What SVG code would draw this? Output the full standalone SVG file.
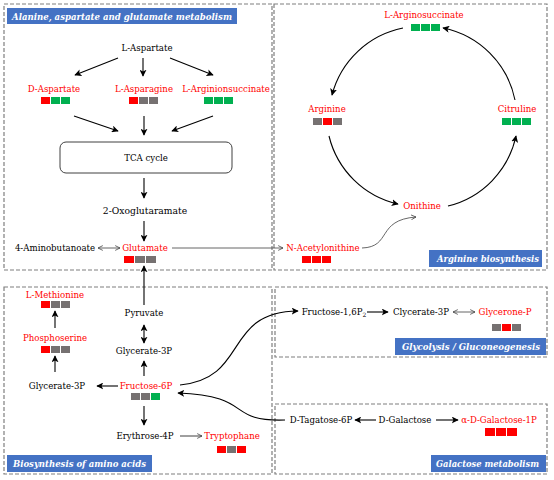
<svg xmlns="http://www.w3.org/2000/svg" width="554" height="480" viewBox="0 0 554 480" font-family="DejaVu Serif">
<defs>
<style>
.t{font-size:8.6px;fill:#000;text-anchor:middle}
.r{fill:#ff0000}
.lab{font-size:8.3px;font-weight:bold;font-style:italic;fill:#fff}
.lb{fill:#4472c4}
.box{fill:none;stroke:#7f7f7f;stroke-width:1.2;stroke-dasharray:4 2}
.a{fill:none;stroke:#000;stroke-width:1.1;marker-end:url(#ah)}
.thin{fill:none;stroke:#404040;stroke-width:0.8}
.R{fill:#ff0000}.G{fill:#00b050}.Y{fill:#767171}
</style>
<marker id="ah" viewBox="0 0 10 10" refX="9" refY="5" markerWidth="7" markerHeight="7" markerUnits="userSpaceOnUse" orient="auto-start-reverse">
<path d="M0,0 L10,5 L0,10 L2.5,5 z" fill="#000"/>
</marker>
<marker id="ov" viewBox="0 0 10 10" refX="9" refY="5" markerWidth="6" markerHeight="6" markerUnits="userSpaceOnUse" orient="auto-start-reverse">
<path d="M1,1 L9,5 L1,9" fill="none" stroke="#404040" stroke-width="1.3"/>
</marker>
</defs>
<rect width="554" height="480" fill="#fff"/>

<g id="frames">
<rect class="box" x="4" y="4" width="268" height="266"/>
<rect class="box" x="274" y="4" width="273" height="266"/>
<rect class="box" x="4" y="287" width="268" height="187"/>
<rect class="box" x="275" y="287" width="272" height="70"/>
<rect class="box" x="275" y="404" width="272" height="70"/>
</g>

<g id="labels">
<rect class="lb" x="7" y="8" width="230" height="16"/>
<text class="lab" x="12" y="19.5" textLength="220" lengthAdjust="spacingAndGlyphs">Alanine, aspartate and glutamate metabolism</text>
<rect class="lb" x="429" y="250" width="113" height="17"/>
<text class="lab" x="437" y="262" textLength="102" lengthAdjust="spacingAndGlyphs">Arginine biosynthesis</text>
<rect class="lb" x="7" y="455" width="145" height="17"/>
<text class="lab" x="13" y="467" textLength="133" lengthAdjust="spacingAndGlyphs">Biosynthesis of amino acids</text>
<rect class="lb" x="395" y="338" width="151" height="17"/>
<text class="lab" x="402" y="350" textLength="138" lengthAdjust="spacingAndGlyphs">Glycolysis / Gluconeogenesis</text>
<rect class="lb" x="431" y="455" width="115" height="17"/>
<text class="lab" x="436" y="467" textLength="103" lengthAdjust="spacingAndGlyphs">Galactose metabolism</text>
</g>

<g id="connectors">
<line class="a" x1="118" y1="58" x2="75" y2="75"/>
<line class="a" x1="143" y1="58" x2="143" y2="76"/>
<line class="a" x1="170" y1="58" x2="213" y2="75"/>
<line class="a" x1="74" y1="116" x2="118" y2="131"/>
<line class="a" x1="144" y1="116" x2="144" y2="135"/>
<line class="a" x1="213" y1="116" x2="172" y2="131"/>
<line class="a" x1="144" y1="178" x2="144" y2="198"/>
<line class="a" x1="144" y1="221" x2="144" y2="241"/>
<line class="thin" x1="98" y1="248" x2="120" y2="248" marker-start="url(#ov)" marker-end="url(#ov)"/>
<line class="thin" x1="172" y1="248" x2="283" y2="248" marker-end="url(#ov)"/>
<path class="thin" d="M362,248 C392,247 376,220 416,217" marker-end="url(#ov)"/>
<path class="a" d="M403,28 A92,92 0 0,0 332,95"/>
<path class="a" d="M329,136 A92,92 0 0,0 398,204"/>
<path class="a" d="M448,206 A92,92 0 0,0 516,136"/>
<path class="a" d="M515,100 A92,92 0 0,0 443,28"/>
<line class="a" x1="55" y1="328" x2="55" y2="311"/>
<line class="a" x1="55" y1="372" x2="55" y2="356"/>
<line class="a" x1="118" y1="386" x2="97" y2="386"/>
<line class="a" x1="144" y1="376" x2="144" y2="361"/>
<line class="a" x1="144" y1="325" x2="144" y2="343" marker-start="url(#ah)"/>
<line class="a" x1="144" y1="305" x2="144" y2="266"/>
<line class="a" x1="144" y1="406" x2="144" y2="425"/>
<line class="thin" x1="180" y1="436" x2="202" y2="436" marker-end="url(#ov)" style="stroke-width:1"/>
<path class="a" d="M180,385 C250,378 222,312 298,311"/>
<path class="a" d="M285,420 C225,422 255,396 178,393"/>
<line class="a" x1="367" y1="312" x2="388" y2="312"/>
<line class="thin" x1="453" y1="312" x2="475" y2="312" marker-start="url(#ov)" marker-end="url(#ov)"/>
<line class="a" x1="376" y1="420" x2="355" y2="420"/>
<line class="a" x1="436" y1="420" x2="458" y2="420"/>
</g>

<g id="L-Aspartate"><text class="t" x="147" y="51">L-Aspartate</text></g>
<g id="D-Aspartate"><text class="t r" x="54" y="92">D-Aspartate</text>
<rect class="R" x="41" y="97" width="9" height="7"/><rect class="G" x="51" y="97" width="9" height="7"/><rect class="G" x="61" y="97" width="9" height="7"/></g>
<g id="L-Asparagine"><text class="t r" x="144" y="92">L-Asparagine</text>
<rect class="R" x="129" y="97" width="9" height="7"/><rect class="Y" x="139" y="97" width="9" height="7"/><rect class="Y" x="149" y="97" width="9" height="7"/></g>
<g id="L-Arginionsuccinate"><text class="t r" x="226" y="92">L-Arginionsuccinate</text>
<rect class="G" x="204" y="97" width="9" height="7"/><rect class="G" x="214" y="97" width="9" height="7"/><rect class="G" x="224" y="97" width="9" height="7"/></g>
<g id="TCA"><rect x="60" y="142" width="172" height="31" rx="6" fill="#fff" stroke="#404040" stroke-width="1"/>
<text class="t" x="146" y="161">TCA cycle</text></g>
<g id="Oxoglutaramate"><text class="t" x="145" y="214" style="font-size:9.2px">2-Oxoglutaramate</text></g>
<g id="Aminobutanoate"><text class="t" x="55" y="251">4-Aminobutanoate</text></g>
<g id="Glutamate"><text class="t r" x="145" y="251">Glutamate</text>
<rect class="R" x="124" y="256" width="10" height="7"/><rect class="Y" x="135" y="256" width="10" height="7"/><rect class="Y" x="146" y="256" width="10" height="7"/></g>

<g id="L-Arginosuccinate"><text class="t r" x="424" y="18">L-Arginosuccinate</text>
<rect class="G" x="411" y="24" width="9" height="7"/><rect class="G" x="421" y="24" width="9" height="7"/><rect class="G" x="431" y="24" width="9" height="7"/></g>
<g id="Arginine"><text class="t r" x="327" y="112">Arginine</text>
<rect class="Y" x="313" y="118" width="9" height="7"/><rect class="R" x="323" y="118" width="9" height="7"/><rect class="Y" x="333" y="118" width="9" height="7"/></g>
<g id="Citruline"><text class="t r" x="517" y="112">Citruline</text>
<rect class="G" x="502" y="118" width="9" height="7"/><rect class="G" x="512" y="118" width="9" height="7"/><rect class="G" x="522" y="118" width="9" height="7"/></g>
<g id="Onithine"><text class="t r" x="422" y="209">Onithine</text></g>
<g id="N-Acetylonithine"><text class="t r" x="323" y="251">N-Acetylonithine</text>
<rect class="R" x="302" y="256" width="9" height="7"/><rect class="R" x="312" y="256" width="9" height="7"/><rect class="R" x="322" y="256" width="9" height="7"/></g>

<g id="L-Methionine"><text class="t r" x="55" y="298">L-Methionine</text>
<rect class="R" x="41" y="301" width="9" height="7"/><rect class="Y" x="51" y="301" width="9" height="7"/><rect class="Y" x="61" y="301" width="9" height="7"/></g>
<g id="Phosphoserine"><text class="t r" x="55" y="341">Phosphoserine</text>
<rect class="R" x="41" y="346" width="9" height="7"/><rect class="Y" x="51" y="346" width="9" height="7"/><rect class="Y" x="61" y="346" width="9" height="7"/></g>
<g id="Glycerate-3P-left"><text class="t" x="57" y="389">Glycerate-3P</text></g>
<g id="Fructose-6P"><text class="t r" x="146" y="389">Fructose-6P</text>
<rect class="Y" x="131" y="393" width="9" height="7"/><rect class="Y" x="141" y="393" width="9" height="7"/><rect class="G" x="151" y="393" width="9" height="7"/></g>
<g id="Glycerate-3P-mid"><text class="t" x="144" y="354">Glycerate-3P</text></g>
<g id="Pyruvate"><text class="t" x="144" y="316">Pyruvate</text></g>
<g id="Erythrose-4P"><text class="t" x="145" y="439">Erythrose-4P</text></g>
<g id="Tryptophane"><text class="t r" x="232" y="439">Tryptophane</text>
<rect class="R" x="217" y="446" width="9" height="7"/><rect class="Y" x="227" y="446" width="9" height="7"/><rect class="R" x="237" y="446" width="9" height="7"/></g>

<g id="Fructose-16P2"><text class="t" x="334" y="315">Fructose-1,6P<tspan font-size="6" dy="2">2</tspan></text></g>
<g id="Clycerate-3P"><text class="t" x="421" y="315">Clycerate-3P</text></g>
<g id="Glycerone-P"><text class="t r" x="505" y="315">Glycerone-P</text>
<rect class="Y" x="492" y="324" width="9" height="7"/><rect class="R" x="502" y="324" width="9" height="7"/><rect class="Y" x="512" y="324" width="9" height="7"/></g>

<g id="D-Tagatose-6P"><text class="t" x="321" y="423">D-Tagatose-6P</text></g>
<g id="D-Galactose"><text class="t" x="405" y="423">D-Galactose</text></g>
<g id="a-D-Galactose-1P"><text class="t r" x="499" y="423">α-D-Galactose-1P</text>
<rect class="R" x="485" y="428" width="10" height="8"/><rect class="R" x="496" y="428" width="10" height="8"/><rect class="R" x="507" y="428" width="10" height="8"/></g>
</svg>
